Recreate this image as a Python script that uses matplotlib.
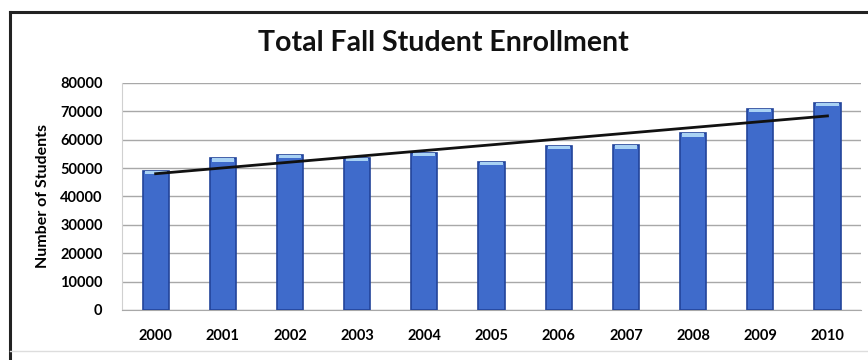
import numpy as np
import matplotlib.pyplot as plt
from matplotlib.lines import Line2D

years = ['2000', '2001', '2002', '2003', '2004', '2005',
         '2006', '2007', '2008', '2009', '2010']
students = [49000, 53500, 54600, 53600, 55400, 52200,
            57800, 58000, 62200, 71000, 73000]
y_ticks = [0, 10000, 20000, 30000, 40000, 50000, 60000, 70000, 80000]

plt.rcParams['font.family'] = ['Lato', 'DejaVu Sans']

fig = plt.figure(figsize=(8.68, 3.6), dpi=100)
ax = fig.add_axes([0.1406, 0.1389, 0.8514, 0.6306])

x = np.arange(len(years))
ax.bar(x, students, width=0.39, color='#3F6BCB', edgecolor='#23449A',
       linewidth=1.2, zorder=3)
# light cap on top of each bar
cap = 1200
ax.bar(x, [cap] * len(x), width=0.33, bottom=np.array(students) - cap,
       color='#A9D2F4', edgecolor='none', zorder=4)

# linear trend line
m, b = np.polyfit(x, students, 1)
ax.plot([0, 10], [b, m * 10 + b], color='#111111', lw=2, zorder=5)

ax.set_xlim(-0.5, 10.5)
ax.set_ylim(0, 80000)
ax.set_yticks(y_ticks)
ax.set_yticklabels([str(v) for v in y_ticks], fontsize=10.5, fontweight='bold')
ax.set_xticks(x)
ax.set_xticklabels(years, fontsize=10.5, fontweight='bold')
ax.tick_params(axis='both', length=0)
ax.tick_params(axis='y', pad=14)
ax.tick_params(axis='x', pad=14)
ax.yaxis.grid(True, color='#A8A8A8', lw=1.0, zorder=0)
for s in ['top', 'right']:
    ax.spines[s].set_visible(False)
ax.spines['left'].set_color('#D0D0D0')
ax.spines['bottom'].set_color('#A8A8A8')

ax.set_ylabel('Number of Students', fontsize=11.5, fontweight='bold')
ax.yaxis.set_label_coords(-0.097, 0.5)

fig.text(0.511, 0.88, 'Total Fall Student Enrollment', ha='center', va='center',
         fontsize=20.5, fontweight='bold', color='#111111')

# outer frame (left and top edges visible in the scan)
fig.add_artist(Line2D([0.0115, 0.0115], [0, 0.967], color='#222222', lw=2.2,
                      transform=fig.transFigure))
fig.add_artist(Line2D([0.0115, 1.0], [0.967, 0.967], color='#222222', lw=2.2,
                      transform=fig.transFigure))
fig.add_artist(Line2D([0.0115, 1.0], [0.025, 0.025], color='#DDDDDD', lw=1.0,
                      transform=fig.transFigure))

fig.savefig('out.png', dpi=100)
